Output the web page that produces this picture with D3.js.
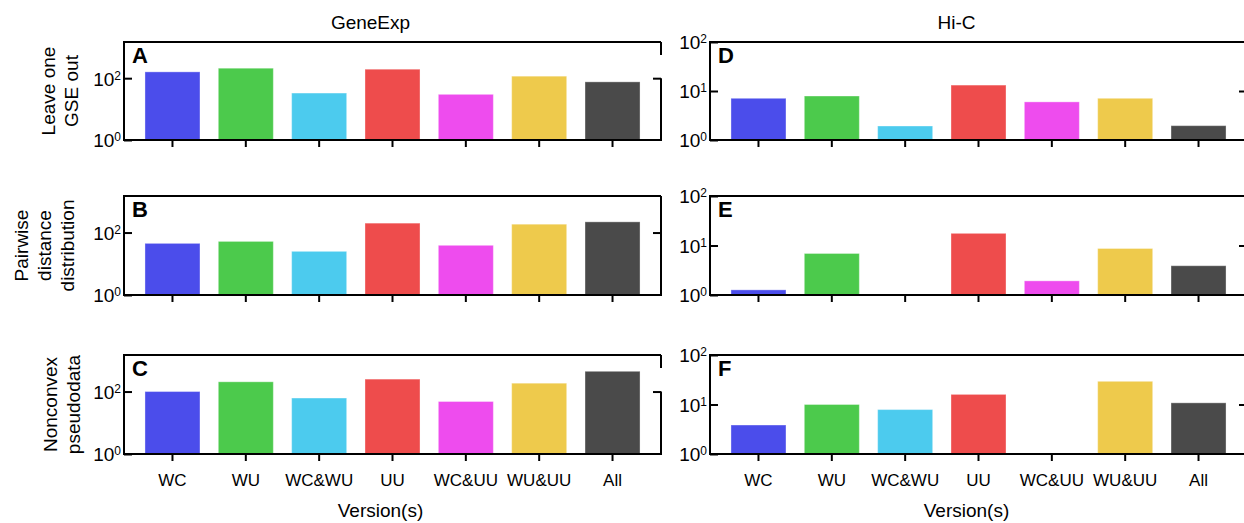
<!DOCTYPE html>
<html>
  <head>
    <title>GeneExp / Hi-C versions</title>
    <script src="https://d3js.org/d3.v7.min.js"></script>
    <style>
      body { margin: 0; background: #fff; }
      text { font-family: "Liberation Sans", Arial, sans-serif; fill: #000; }
    </style>
  </head>

  <body>
    <svg width="1244" height="523"></svg>

    <script type="text/javascript">
      // data
      var versions = ["WC", "WU", "WC&WU", "UU", "WC&UU", "WU&UU", "All"];
      var barColors = ["#4b4deb", "#4cca4c", "#4ccbee", "#ee4c4c", "#ee4cee", "#eeca4c", "#4a4a4a"];

      var geneLeaveOne = [160, 210, 33, 195, 30, 116, 76];
      var genePairwise = [45, 52, 25, 200, 39, 185, 220];
      var geneNonconvex = [100, 205, 62, 250, 48, 185, 445];

      var hicLeaveOne = [7.1, 7.9, 1.93, 13.2, 6.0, 7.1, 1.96];
      var hicPairwise = [1.27, 6.9, null, 17.6, 1.93, 8.7, 3.9];
      var hicNonconvex = [3.85, 10, 7.9, 16, null, 29.4, 10.8];

      var geneTicks = [1, 100];
      var hicTicks = [1, 10, 100];
      var columnTitles = ["GeneExp", "Hi-C"];
      var rowLabels = [
        ["Leave one", "GSE out"],
        ["Pairwise", "distance", "distribution"],
        ["Nonconvex", "pseudodata"]
      ];
      var panelLetters = [["A", "D"], ["B", "E"], ["C", "F"]];

      // layout
      var cols = [[124, 661], [710, 1247]];
      var rows = [[42, 140], [196, 295], [355, 454]];
      var svg = d3.select("svg");

      var panels = [
        { r: 0, c: 0, values: geneLeaveOne },
        { r: 1, c: 0, values: genePairwise },
        { r: 2, c: 0, values: geneNonconvex },
        { r: 0, c: 1, values: hicLeaveOne },
        { r: 1, c: 1, values: hicPairwise },
        { r: 2, c: 1, values: hicNonconvex }
      ];

      panels.forEach(function (p) {
        var x0 = cols[p.c][0], x1 = cols[p.c][1];
        var top = rows[p.r][0], bottom = rows[p.r][1];
        var isGene = p.c == 0;

        var xScale = d3
          .scaleBand()
          .domain(versions)
          .range([x0, x1])
          .paddingInner(0.25)
          .paddingOuter(0.286);

        var yScale = d3
          .scaleLog()
          .domain(isGene ? [1, 1480] : [1, 100])
          .range([bottom, top]);

        var g = svg.append("g");

        // bars (missing values are skipped)
        var barData = p.values
          .map(function (v, i) { return { name: versions[i], value: v, color: barColors[i] }; })
          .filter(function (d) { return d.value != null; });

        g.selectAll("rect.bar")
          .data(barData)
          .enter()
          .append("rect")
          .attr("class", "bar")
          .attr("x", function (d) { return xScale(d.name); })
          .attr("width", xScale.bandwidth())
          .attr("y", function (d) { return yScale(d.value); })
          .attr("height", function (d) { return bottom - yScale(d.value); })
          .attr("fill", function (d) { return d.color; })
          .attr("stroke", "rgba(255,255,255,0.35)")
          .attr("stroke-width", 1);

        // left axis, ticks pointing inward
        var left = g
          .append("g")
          .attr("transform", "translate(" + x0 + ",0)")
          .call(
            d3.axisLeft(yScale)
              .tickValues(isGene ? geneTicks : hicTicks)
              .tickSize(-8)
              .tickFormat("")
          );
        left.select(".domain").remove();
        left.selectAll(".tick line").attr("stroke-width", 2);

        left.selectAll(".tick")
          .append("text")
          .attr("x", -3)
          .attr("y", 0)
          .attr("dy", "0.36em")
          .attr("text-anchor", "end")
          .style("font-size", "19px")
          .each(function (d) {
            var t = d3.select(this);
            t.append("tspan").text("10");
            t.append("tspan")
              .attr("dy", "-0.5em")
              .style("font-size", "12px")
              .text(Math.round(Math.log10(d)));
          });

        // right axis, one tick
        var right = g
          .append("g")
          .attr("transform", "translate(" + x1 + ",0)")
          .call(
            d3.axisRight(yScale)
              .tickValues(isGene ? [100] : [10])
              .tickSize(-8)
              .tickFormat("")
          );
        right.select(".domain").remove();
        right.selectAll(".tick line").attr("stroke-width", 2);

        // bottom axis
        var xAxis = g
          .append("g")
          .attr("transform", "translate(0," + bottom + ")")
          .call(
            d3.axisBottom(xScale)
              .tickSize(7)
              .tickFormat(p.r == 2 ? null : "")
          );
        xAxis.select(".domain").remove();
        xAxis.selectAll(".tick line").attr("stroke-width", 2);
        xAxis.selectAll(".tick text")
          .attr("y", 32)
          .attr("dy", 0)
          .attr("fill", "#000")
          .style("font-size", "17px")
          .style("font-family", '"Liberation Sans", Arial, sans-serif');

        // frame
        var tickY = yScale(isGene ? 100 : 10);
        g.append("path")
          .attr("fill", "none")
          .attr("stroke", "#000")
          .attr("stroke-width", 2)
          .attr("d",
            "M" + x1 + "," + top + "H" + x0 + "V" + bottom + "H" + x1 +
            (isGene && p.r != 1
              ? "V" + tickY + "M" + x1 + "," + top + "V" + (top + 13)
              : "V" + top));

        // panel letter
        g.append("text")
          .attr("x", x0 + 8)
          .attr("y", top + 21)
          .style("font-size", "22px")
          .style("font-weight", "bold")
          .text(panelLetters[p.r][p.c]);
      });

      // column titles
      columnTitles.forEach(function (t, c) {
        var mid = (cols[c][0] + cols[c][1]) / 2;
        svg.append("text")
          .attr("x", mid - 22)
          .attr("y", 29)
          .attr("text-anchor", "middle")
          .style("font-size", "19px")
          .text(t);
        svg.append("text")
          .attr("x", mid - 12)
          .attr("y", 517)
          .attr("text-anchor", "middle")
          .style("font-size", "19px")
          .text("Version(s)");
      });

      // row labels, rotated
      rowLabels.forEach(function (lines, r) {
        var cy = (rows[r][0] + rows[r][1]) / 2;
        var lineGap = 23;
        var lastX = r == 1 ? 74 : (r == 0 ? 78 : 80);
        var t = svg.append("text")
          .attr("transform", "translate(0," + cy + ") rotate(-90)")
          .attr("text-anchor", "middle")
          .style("font-size", "19px");
        lines.forEach(function (line, i) {
          t.append("tspan")
            .attr("x", 0)
            .attr("y", lastX - (lines.length - 1 - i) * lineGap)
            .text(line);
        });
      });
    </script>
  </body>
</html>
